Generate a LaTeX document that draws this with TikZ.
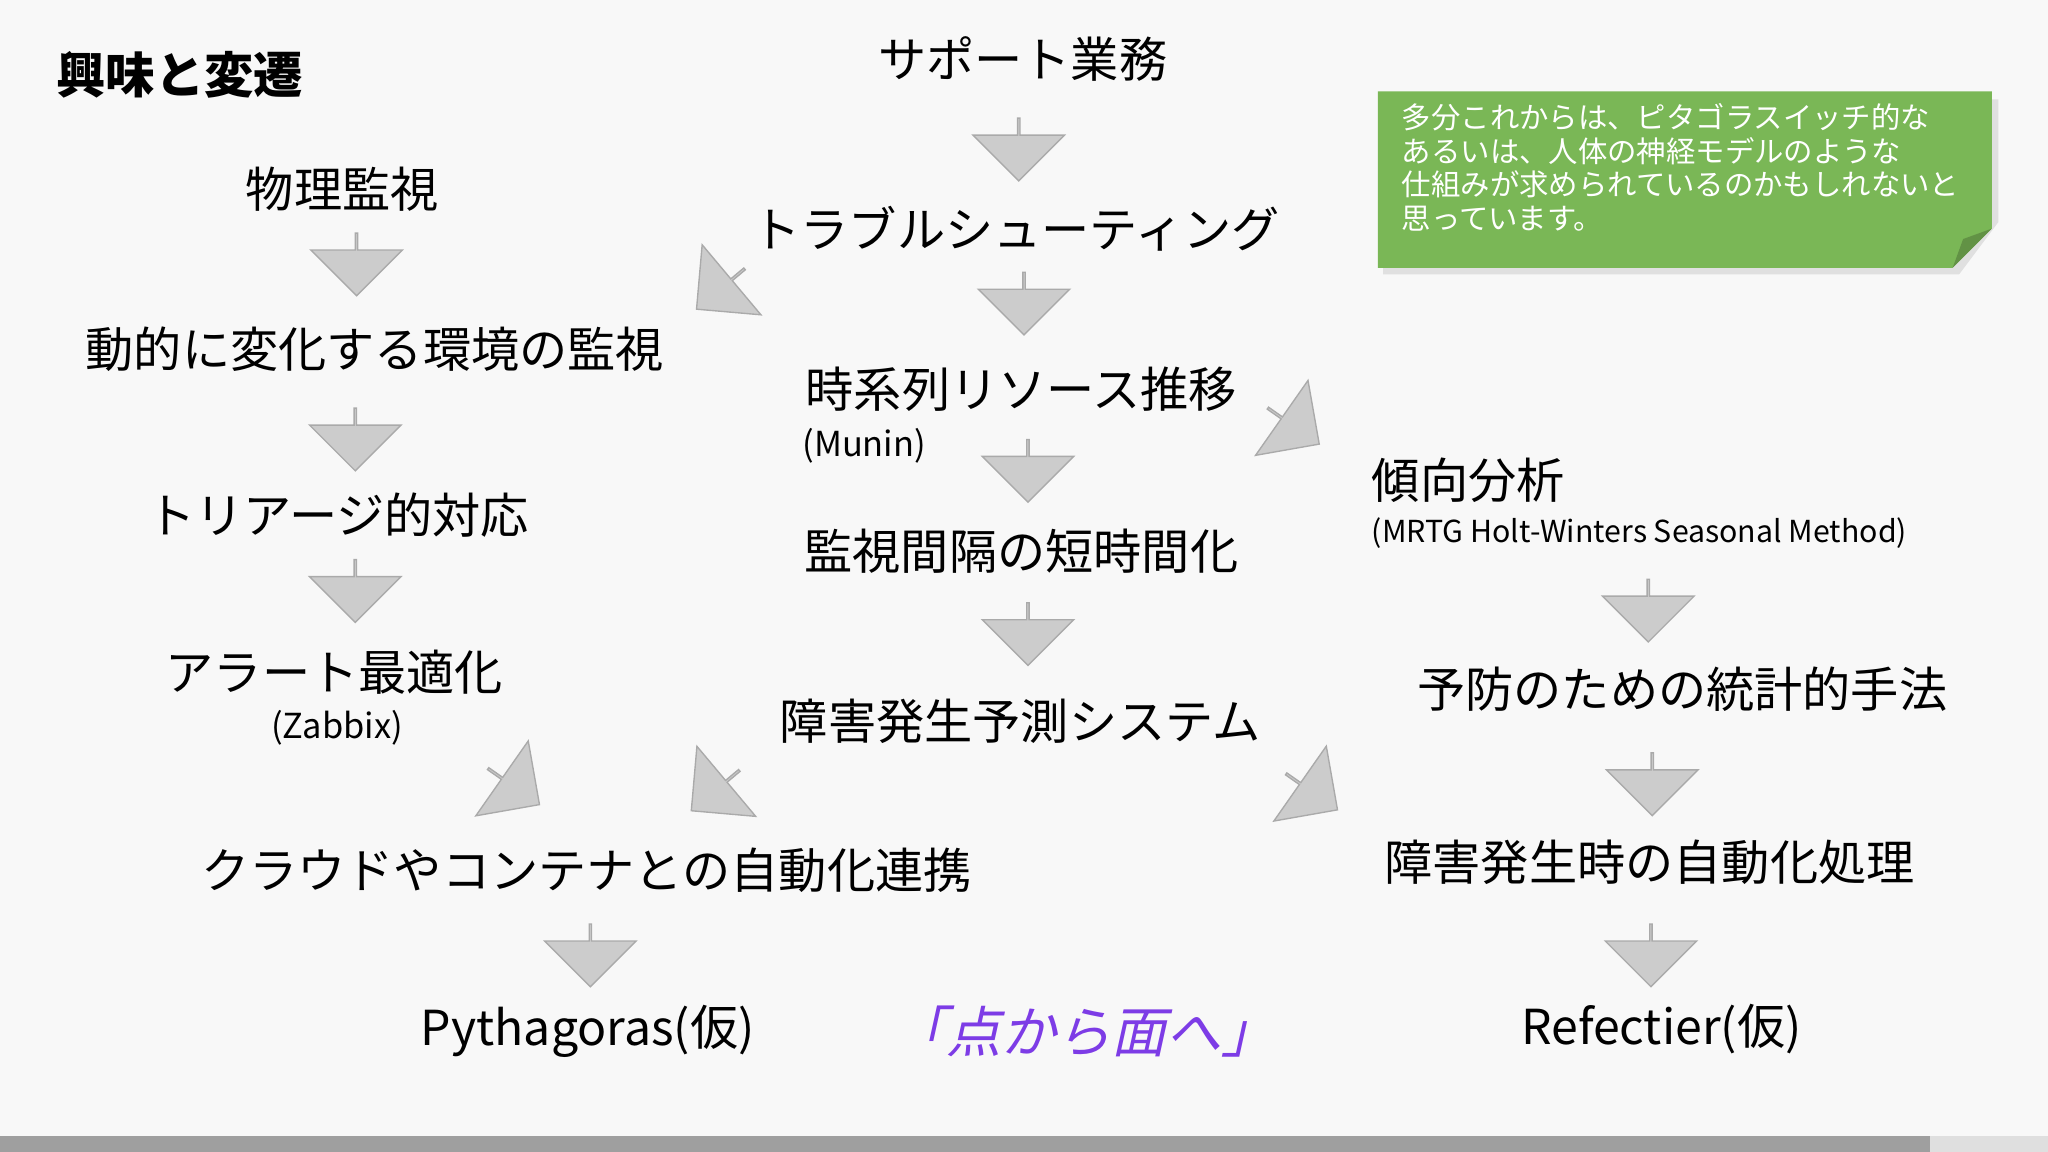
\documentclass[tikz,border=0pt]{standalone}
\usepackage{fontspec}
\setmainfont{Noto Sans CJK JP}
\newfontfamily\slfont{Noto Sans CJK JP}[FakeSlant=0.22]
\usetikzlibrary{shapes.arrows}
\definecolor{bg}{RGB}{248,248,248}
\definecolor{arrfill}{RGB}{204,204,204}
\definecolor{arrline}{RGB}{170,170,170}
\definecolor{notegreen}{RGB}{122,183,86}
\definecolor{purp}{RGB}{125,60,230}
\tikzset{
  blk/.style={arrfill, fill=arrfill, draw=arrline, line width=0.6pt, single arrow, minimum height=0.96cm, minimum width=1.4cm, single arrow head extend=0.4cm, inner sep=0pt, text width=0pt},
  dn/.style={blk, rotate=-90},
  lbl/.style={font=\fontsize{21}{24}\selectfont, inner sep=0pt, anchor=center},
  sub/.style={font=\fontsize{15}{18}\selectfont, inner sep=0pt},
}
\begin{document}
\begin{tikzpicture}[x=0.02cm,y=-0.02cm]
\fill[bg] (0,0) rectangle (1568,882);
\useasboundingbox (0,0) rectangle (1568,882);
\fill[gray!75] (0,870) rectangle (1478,882);
\fill[gray!25] (1478,870) rectangle (1568,882);
% title
\node[font=\fontsize{21.5}{24}\selectfont\bfseries, anchor=west, inner sep=0pt] (title) at (43,57) {興味と変遷};
% labels
\node[lbl] (sup) at (783,45) {サポート業務};
\node[lbl] (trb) at (778,175) {トラブルシューティング};
\node[lbl] (ts) at (782,298) {時系列リソース推移};
\node[sub, anchor=west] (munin) at (614,341) {(Munin)};
\node[lbl] (iv) at (782,422) {監視間隔の短時間化};
\node[lbl] (pred) at (781,552) {障害発生予測システム};
\node[lbl] (phys) at (262,145) {物理監視};
\node[lbl] (dyn) at (287,267) {動的に変化する環境の監視};
\node[lbl] (tri) at (259,394) {トリアージ的対応};
\node[lbl] (alrt) at (256,515) {アラート最適化};
\node[sub] (zbx) at (258,557) {(Zabbix)};
\node[lbl] (cld) at (449,666) {クラウドやコンテナとの自動化連携};
\node[lbl] (pyt) at (450,790) {Pythagoras(仮)};
\node[lbl, anchor=west] (trend) at (1050,368) {傾向分析};
\node[font=\fontsize{13.2}{16}\selectfont, inner sep=0pt, anchor=west] (mrtg) at (1050,408) {(MRTG Holt-Winters Seasonal Method)};
\node[lbl] (stat) at (1288,528) {予防のための統計的手法};
\node[lbl] (auto) at (1263,660) {障害発生時の自動化処理};
\node[lbl] (ref) at (1272,788) {Refectier(仮)};
\node[font=\fontsize{24}{28}\selectfont\slfont, text=purp, inner sep=0pt] (pt) at (830,790) {「点から面へ」};
% down arrows
\node[dn] (a1) at (780,114) {};
\node[dn] (a2) at (784,232) {};
\node[dn] (a3) at (787,360) {};
\node[dn] (a4) at (787,485) {};
\node[dn] (b1) at (273,202) {};
\node[dn] (b2) at (272,336) {};
\node[dn] (b3) at (272,452) {};
\node[dn] (b4) at (452,731) {};
\node[dn] (c1) at (1262,467) {};
\node[dn] (c2) at (1265,600) {};
\node[dn] (c3) at (1264,731) {};
% diagonal arrows
\node[blk, rotate=-140] (d1) at (552,221) {};
\node[blk, rotate=-35] (d2) at (990,326) {};
\node[blk, rotate=-35] (d3) at (393,602) {};
\node[blk, rotate=-140] (d4) at (548,605) {};
\node[blk, rotate=-35] (d5) at (1004,606) {};
% note
\fill[black!12] (1059,76) -- (1530,76) -- (1530,170) -- (1500,210) -- (1059,210) -- cycle;
\fill[notegreen] (1055,70) -- (1525,70) -- (1525,175) -- (1495,205) -- (1055,205) -- cycle;
\fill[notegreen!80!black] (1495,205) -- (1503,183) -- (1525,175) -- cycle;
\node[anchor=north west, inner sep=0pt, text=white, font=\fontsize{12.8}{14.6}\selectfont, align=left] (note) at (1073,79) {多分これからは、ピタゴラスイッチ的な\\あるいは、人体の神経モデルのような\\仕組みが求められているのかもしれないと\\思っています。};
\end{tikzpicture}
\end{document}
